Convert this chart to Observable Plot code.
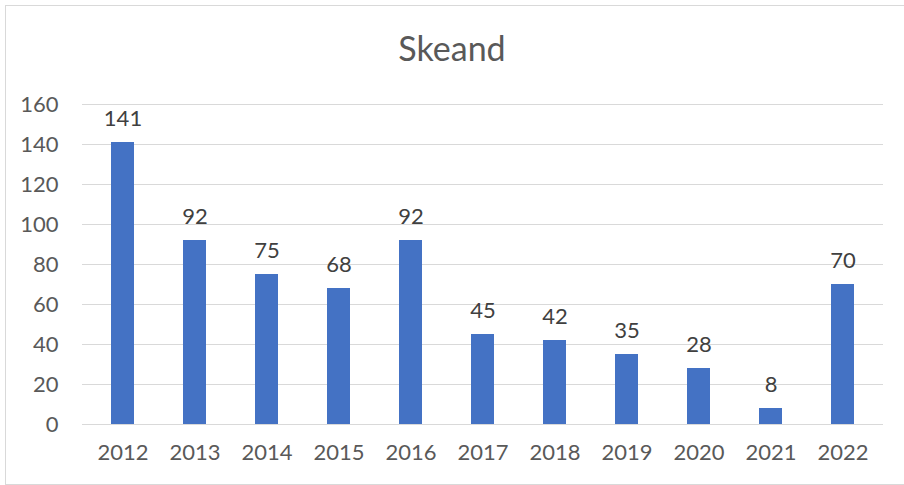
<!DOCTYPE html>
<html>
<head>
<meta charset="utf-8">
<script src="https://cdn.jsdelivr.net/npm/d3@7"></script>
<script src="https://cdn.jsdelivr.net/npm/@observablehq/plot@0.6"></script>
<style>
  html, body { margin: 0; padding: 0; background: #fff; }
  body { width: 904px; height: 485px; position: relative; overflow: hidden; font-family: Lato, "Open Sans", sans-serif; }
  #frame { position: absolute; left: 5px; top: 5px; width: 1000px; height: 480px; border: 1px solid #d9d9d9; pointer-events: none; box-sizing: border-box; border-right: none; }
  #title { height: 80px; line-height: 96px; text-align: center; font-size: 34px; color: #595959; font-family: Lato, sans-serif; }
  #chart svg { display: block; }
</style>
</head>
<body>
<div id="title">Skeand</div>
<div id="chart"></div>
<div id="frame"></div>
<script>
const years = ["2012","2013","2014","2015","2016","2017","2018","2019","2020","2021","2022"];
const values = [141, 92, 75, 68, 92, 45, 42, 35, 28, 8, 70];
const yTicks = [0, 20, 40, 60, 80, 100, 120, 140, 160];

const data = years.map((y, i) => ({year: y, value: values[i]}));

const chart = Plot.plot({
  width: 904,
  height: 405,
  marginTop: 24,
  marginBottom: 61,
  marginLeft: 82,
  marginRight: 21,
  style: { fontFamily: "Lato, sans-serif", fontSize: "22px", color: "#595959", background: "transparent" },
  x: { domain: years, paddingInner: 0.684, paddingOuter: 0.342, label: null, tickSize: 0 },
  y: { domain: [0, 160], ticks: yTicks, label: null, tickSize: 0 },
  marks: [
    Plot.ruleY(yTicks, { stroke: "#d9d9d9", strokeWidth: 1 }),
    Plot.barY(data, { x: "year", y: "value", fill: "#4472c4" }),
    Plot.text(data, { x: "year", y: "value", text: d => String(d.value), lineAnchor: "bottom", dy: -17, fill: "#404040", fontSize: 22 }),
    Plot.axisX({ tickSize: 0, tickPadding: 20, fill: "#595959", fontSize: 22 }),
    Plot.axisY({ ticks: yTicks, tickSize: 0, tickPadding: 24, fill: "#595959", fontSize: 22 })
  ]
});
document.getElementById("chart").appendChild(chart);
</script>
</body>
</html>
